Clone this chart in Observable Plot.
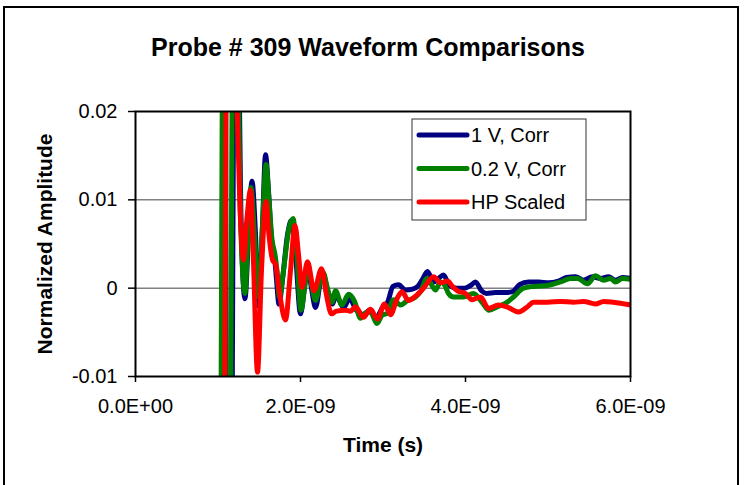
<!DOCTYPE html>
<html>
<head>
<meta charset="utf-8">
<script src="https://cdn.jsdelivr.net/npm/d3@7"></script>
<script src="https://cdn.jsdelivr.net/npm/@observablehq/plot@0.6"></script>
<style>
  html, body { margin: 0; padding: 0; background: white; }
</style>
</head>
<body>
<div id="chart"></div>
<script>
// ---- Data (time in nanoseconds, normalized amplitude) ----
const chartTitle = "Probe # 309 Waveform Comparisons";
const xTitle = "Time (s)";
const yTitle = "Normalized Amplitude";
const seriesNames = ["1 V, Corr", "0.2 V, Corr", "HP Scaled"];
const seriesColors = ["#000080", "#008000", "#FF0000"];

const xTicks = [0, 2e-9, 4e-9, 6e-9];
const xTickLabels = ["0.0E+00", "2.0E-09", "4.0E-09", "6.0E-09"];
const yTicks = [-0.01, 0, 0.01, 0.02];
const yTickLabels = ["-0.01", "0", "0.01", "0.02"];
const yGridLines = [0, 0.01];

const blueTimeNs = [1.042,1.067,1.085,1.109,1.152,1.200,1.242,1.279,1.327,1.370,1.412,1.455,1.491,1.539,1.576,1.612,1.648,1.685,1.709,1.739,1.782,1.842,1.891,1.939,2.000,2.048,2.085,2.133,2.182,2.242,2.273,2.339,2.388,2.430,2.521,2.594,2.679,2.764,2.836,2.915,2.994,3.055,3.121,3.188,3.273,3.358,3.430,3.479,3.539,3.612,3.673,3.733,3.806,3.891,3.988,4.061,4.121,4.194,4.255,4.364,4.485,4.570,4.655,4.764,4.885,5.006,5.127,5.224,5.333,5.430,5.539,5.636,5.733,5.818,5.903,6.000];
const blueValue = [-0.03,0.03,0.04,-0.04,-0.04,0.03,0.03,0.008,-0.0012,0.006,0.0121,0.006,-0.002,0.007,0.0151,0.011,0.0055,0.0036,0.001,-0.0018,0.001,0.006,0.0077,0.004,-0.0029,0.0,0.0026,0.0,-0.0022,0.0008,0.0017,-0.001,-0.0018,-0.0008,-0.0022,-0.0012,-0.0025,-0.003,-0.0025,-0.0034,-0.0022,-0.0016,0.0002,0.0004,-0.0002,-0.0001,0.0003,0.001,0.0019,0.0007,0.0011,0.0015,0.0003,0.0,0.0,0.0003,0.0007,-0.0003,-0.0006,-0.0005,-0.0005,-0.0004,0.0004,0.0007,0.0007,0.0006,0.0008,0.0012,0.0013,0.0009,0.0013,0.0011,0.0013,0.0009,0.0012,0.0011];

const greenTimeNs = [1.030,1.055,1.073,1.097,1.133,1.182,1.230,1.273,1.327,1.364,1.400,1.442,1.491,1.539,1.582,1.618,1.655,1.691,1.715,1.745,1.794,1.855,1.909,1.952,2.006,2.048,2.085,2.133,2.182,2.242,2.273,2.327,2.382,2.424,2.503,2.582,2.655,2.727,2.788,2.848,2.927,2.994,3.048,3.127,3.212,3.297,3.394,3.455,3.533,3.636,3.697,3.745,3.794,3.855,3.976,4.097,4.200,4.285,4.388,4.503,4.582,4.703,4.824,4.994,5.152,5.273,5.358,5.479,5.576,5.673,5.758,5.818,5.903,6.000];
const greenValue = [-0.03,0.03,0.04,-0.04,-0.04,0.03,0.03,0.008,-0.0006,0.006,0.0114,0.006,-0.001,0.007,0.014,0.010,0.0055,0.0038,0.002,-0.001,0.002,0.0065,0.0079,0.004,-0.0025,0.0,0.0027,0.0005,-0.0014,0.001,0.0018,0.0,-0.0016,-0.0003,-0.0019,-0.0007,-0.0015,-0.0034,-0.0028,-0.0027,-0.004,-0.003,-0.0029,-0.0013,-0.0019,-0.0014,-0.001,-0.0004,0.0011,-0.0002,0.0007,0.0004,-0.0006,-0.001,-0.001,-0.0006,-0.0016,-0.0025,-0.0021,-0.0016,-0.001,0.0,0.0002,0.0003,0.0007,0.0011,0.0011,0.0005,0.0014,0.0009,0.0011,0.0007,0.0011,0.001];

const redTimeNs = [1.073,1.103,1.152,1.218,1.267,1.309,1.352,1.394,1.430,1.479,1.527,1.582,1.618,1.661,1.697,1.745,1.818,1.879,1.933,1.976,2.018,2.085,2.164,2.255,2.315,2.376,2.436,2.545,2.606,2.667,2.764,2.848,2.933,3.018,3.091,3.170,3.230,3.309,3.394,3.491,3.612,3.697,3.782,3.842,3.903,4.000,4.079,4.182,4.279,4.400,4.521,4.642,4.752,4.824,4.994,5.152,5.309,5.430,5.576,5.673,5.794,6.000];
const redValue = [-0.03,0.035,0.05,0.025,0.009,0.0032,0.008,0.0111,0.003,-0.0095,0.002,0.0098,0.006,0.0032,0.0027,-0.0005,-0.0036,0.002,0.0071,0.0038,0.0001,0.003,-0.0003,0.0022,-0.0008,-0.0029,-0.0026,-0.0025,-0.0026,-0.0021,-0.0033,-0.0024,-0.0035,-0.0018,-0.003,-0.0012,-0.0004,-0.0014,-0.0009,0.0,0.0013,0.0006,0.0008,0.0002,-0.0003,-0.0006,-0.0013,-0.001,-0.0023,-0.0019,-0.0022,-0.0027,-0.0021,-0.0016,-0.0016,-0.0015,-0.0016,-0.0015,-0.0018,-0.0015,-0.0016,-0.0019];

// ---- Build tables ----
const seriesTimes = [blueTimeNs, greenTimeNs, redTimeNs];
const seriesValues = [blueValue, greenValue, redValue];
const tables = seriesNames.map((name, k) =>
  seriesTimes[k].map((t, i) => ({time: t * 1e-9, value: seriesValues[k][i], series: name}))
);

const xLabelMap = new Map(xTicks.map((d, i) => [d, xTickLabels[i]]));
const yLabelMap = new Map(yTicks.map((d, i) => [d, yTickLabels[i]]));
const font = "'Liberation Sans', Arial, Helvetica, sans-serif";

const svg = Plot.plot({
  width: 746,
  height: 485,
  marginLeft: 135,
  marginRight: 116,
  marginTop: 111,
  marginBottom: 109,
  style: {fontFamily: font, background: "white", color: "black", overflow: "visible"},
  x: {domain: [0, 6e-9]},
  y: {domain: [-0.01, 0.02]},
  marks: [
    Plot.gridY(yGridLines, {stroke: "#808080", strokeOpacity: 1, strokeWidth: 1.5}),
    ...tables.map((data, k) => Plot.line(data, {
      x: "time", y: "value", stroke: seriesColors[k], strokeWidth: 5,
      curve: "monotone-x", strokeLinecap: "round", strokeLinejoin: "round", clip: true
    })),
    Plot.frame({stroke: "black", strokeWidth: 2}),
    Plot.axisY(yTicks, {tickFormat: d => yLabelMap.get(d), tickSize: 7, tickPadding: 11, fontSize: 20, label: null, strokeWidth: 1.5}),
    Plot.axisX(xTicks, {tickFormat: d => xLabelMap.get(d), tickSize: 6, tickPadding: 16, fontSize: 20, label: null, strokeWidth: 1.5}),
    Plot.text([chartTitle], {text: d => d, frameAnchor: "top", lineAnchor: "middle", textAnchor: "middle", dx: -15, dy: -64, fontSize: 25, fontWeight: "bold"}),
    Plot.text([xTitle], {text: d => d, frameAnchor: "bottom", lineAnchor: "middle", textAnchor: "middle", dy: 69, fontSize: 21, fontWeight: "bold"}),
    Plot.text([yTitle], {text: d => d, frameAnchor: "left", lineAnchor: "middle", textAnchor: "middle", dx: -90, rotate: -90, fontSize: 21, fontWeight: "bold"})
  ]
});

// Outer chart border
const s = d3.select(svg);
s.append("path")
  .attr("d", "M4,490V7H738V490")
  .attr("fill", "none").attr("stroke", "black").attr("stroke-width", 2);

// Legend
const lg = s.append("g").attr("font-family", font).attr("font-size", 20).attr("text-anchor", "start");
lg.append("rect").attr("x", 412).attr("y", 119).attr("width", 174).attr("height", 101)
  .attr("fill", "white").attr("stroke", "#333").attr("stroke-width", 1);
seriesNames.forEach((name, k) => {
  const y = 135 + k * 33.5;
  lg.append("line").attr("x1", 419).attr("x2", 467).attr("y1", y).attr("y2", y)
    .attr("stroke", seriesColors[k]).attr("stroke-width", 5).attr("stroke-linecap", "round");
  lg.append("text").attr("x", 471).attr("y", y).attr("dy", "0.36em")
    .attr("text-anchor", "start").attr("fill", "black").text(name);
});

document.getElementById("chart").appendChild(svg);
</script>
</body>
</html>
